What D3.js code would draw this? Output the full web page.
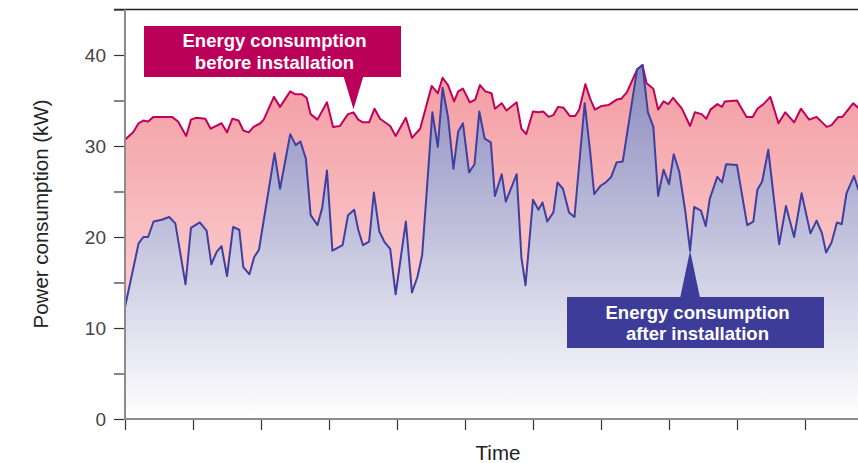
<!DOCTYPE html>
<html>
<head>
<meta charset="utf-8">
<script src="https://cdn.jsdelivr.net/npm/d3@7"></script>
<style>
  html, body { margin: 0; padding: 0; background: #fff; }
  svg { display: block; }
  text { font-family: "Liberation Sans", Arial, sans-serif; }
</style>
</head>
<body>
<svg id="chart" width="858" height="463"></svg>
<script>
// ---- data (time in tick intervals, power in kW) ----
const timeBefore = [0.00,0.12,0.20,0.27,0.34,0.42,0.69,0.78,0.90,0.97,1.05,1.18,1.26,1.42,1.50,1.58,1.67,1.74,1.82,1.89,1.99,2.04,2.19,2.28,2.43,2.50,2.60,2.67,2.73,2.83,2.97,3.06,3.16,3.28,3.36,3.43,3.50,3.59,3.67,3.75,3.90,3.98,4.13,4.22,4.34,4.51,4.60,4.67,4.75,4.84,4.90,4.97,5.07,5.15,5.22,5.30,5.39,5.44,5.54,5.61,5.76,5.83,5.90,6.00,6.08,6.15,6.23,6.30,6.37,6.45,6.54,6.62,6.68,6.77,6.84,6.91,7.01,7.11,7.23,7.30,7.38,7.53,7.61,7.67,7.77,7.84,7.92,7.99,8.06,8.19,8.31,8.38,8.48,8.55,8.61,8.71,8.78,8.82,9.00,9.14,9.23,9.30,9.39,9.49,9.61,9.71,9.84,9.94,10.06,10.17,10.32,10.39,10.49,10.55,10.71,10.78,10.85];
const powerBefore = [30.7,31.5,32.5,32.8,32.7,33.2,33.2,32.7,31.1,32.9,33.1,33.0,31.9,32.5,31.5,33.0,32.8,31.7,31.5,32.1,32.5,32.9,35.4,34.3,36.0,35.7,35.7,35.3,33.5,32.9,34.8,32.1,32.2,33.5,33.7,32.9,32.6,32.6,34.1,33.0,32.2,31.1,33.1,30.9,31.9,36.6,35.8,37.5,36.7,34.9,36.0,36.3,34.8,35.1,36.7,36.0,35.8,34.1,34.7,33.9,34.8,31.9,31.3,33.8,33.7,33.8,33.2,33.4,34.3,34.2,33.3,33.3,34.0,36.8,35.2,34.0,34.4,34.5,35.1,35.2,35.9,38.4,38.9,36.9,36.3,34.0,34.9,34.6,35.3,34.1,32.2,33.7,33.5,33.0,34.0,34.6,34.3,34.9,35.0,33.2,33.2,34.1,34.6,35.4,32.5,33.7,32.6,34.1,32.9,33.2,32.1,32.3,33.2,33.2,34.7,34.2,33.8];

const timeAfter = [0.00,0.20,0.27,0.34,0.42,0.54,0.65,0.74,0.89,0.97,1.10,1.20,1.27,1.35,1.42,1.50,1.59,1.68,1.74,1.83,1.90,1.97,2.20,2.28,2.43,2.51,2.58,2.66,2.73,2.83,2.90,2.97,3.05,3.20,3.28,3.37,3.43,3.50,3.59,3.66,3.74,3.82,3.90,3.98,4.13,4.22,4.30,4.37,4.52,4.60,4.67,4.75,4.83,4.90,4.97,5.06,5.14,5.21,5.29,5.38,5.44,5.54,5.60,5.76,5.83,5.89,6.00,6.08,6.14,6.21,6.30,6.36,6.44,6.53,6.61,6.76,6.84,6.90,6.99,7.07,7.15,7.23,7.32,7.53,7.61,7.69,7.77,7.84,7.92,8.00,8.07,8.15,8.24,8.31,8.37,8.47,8.54,8.60,8.71,8.78,8.84,9.00,9.15,9.24,9.30,9.37,9.46,9.62,9.72,9.84,9.95,10.08,10.17,10.25,10.31,10.39,10.47,10.54,10.61,10.72,10.78,10.85];
const powerAfter = [12.3,19.3,20.0,20.0,21.7,21.9,22.2,21.5,14.8,21.0,21.6,20.7,17.0,18.4,19.0,15.7,21.1,20.8,16.7,15.9,17.8,18.6,29.2,25.3,31.3,30.1,30.5,28.6,22.4,21.3,23.2,27.3,18.5,19.1,22.4,23.0,20.8,19.1,19.5,24.9,20.6,19.4,18.7,13.7,21.7,13.9,15.6,18.0,33.7,29.9,36.4,33.2,27.5,31.6,32.5,27.1,28.0,33.8,30.8,30.4,24.5,26.9,23.9,26.9,17.7,14.7,24.1,23.0,23.8,21.7,22.7,26.0,25.3,22.7,22.2,34.7,29.4,24.7,25.6,26.0,26.6,28.2,28.3,38.4,38.9,33.7,32.1,24.5,27.4,25.8,29.1,27.2,22.8,18.5,23.3,22.9,21.2,24.2,26.6,26.0,28.0,27.9,21.3,21.7,25.2,26.1,29.6,19.2,23.4,20.0,24.8,20.4,21.8,20.4,18.3,19.4,21.6,21.4,24.8,26.7,25.3,24.0];

const yMajorTicks = [0, 10, 20, 30, 40];
const yMinorTicks = [5, 15, 25, 35, 45];
const xTicks = [0,1,2,3,4,5,6,7,8,9,10,11];
const yTitle = "Power consumption (kW)";
const xTitle = "Time";
const labelBefore = ["Energy consumption", "before installation"];
const labelAfter = ["Energy consumption", "after installation"];

// ---- layout ----
const W = 858, H = 463;
const svg = d3.select("#chart");
const x = d3.scaleLinear().domain([0, 11]).range([125, 873]);
const y = d3.scaleLinear().domain([0, 45]).range([419, 9.5]);

const before = timeBefore.map((t, i) => ({t, v: powerBefore[i]}));
const after = timeAfter.map((t, i) => ({t, v: powerAfter[i]}));

const defs = svg.append("defs");
const gRed = defs.append("linearGradient").attr("id", "gRed")
  .attr("gradientUnits", "userSpaceOnUse").attr("x1", 0).attr("x2", 0)
  .attr("y1", y(40)).attr("y2", y(0));
gRed.append("stop").attr("offset", 0).attr("stop-color", "#f3999f");
gRed.append("stop").attr("offset", 1).attr("stop-color", "#fde6e7");
const gBlue = defs.append("linearGradient").attr("id", "gBlue")
  .attr("gradientUnits", "userSpaceOnUse").attr("x1", 0).attr("x2", 0)
  .attr("y1", y(40)).attr("y2", y(0));
gBlue.append("stop").attr("offset", 0).attr("stop-color", "#8686bc");
gBlue.append("stop").attr("offset", 1).attr("stop-color", "#ffffff");

defs.append("clipPath").attr("id", "plotClip").append("rect")
  .attr("x", x(0)).attr("y", y(45)).attr("width", W - x(0)).attr("height", y(0) - y(45));

const plot = svg.append("g").attr("clip-path", "url(#plotClip)");
const area = d3.area().x(d => x(d.t)).y0(y(0)).y1(d => y(d.v));
const line = d3.line().x(d => x(d.t)).y(d => y(d.v));

plot.append("path").datum(before).attr("d", area).attr("fill", "url(#gRed)");
plot.append("path").datum(after).attr("d", area).attr("fill", "url(#gBlue)");
plot.append("path").datum(before).attr("d", line).attr("fill", "none")
  .attr("stroke", "#c0005c").attr("stroke-width", 2).attr("stroke-linejoin", "round");
plot.append("path").datum(after).attr("d", line).attr("fill", "none")
  .attr("stroke", "#3f3fa0").attr("stroke-width", 2).attr("stroke-linejoin", "round");

// ---- axes ----
// top frame line
svg.append("line").attr("x1", 114).attr("x2", W).attr("y1", y(45)).attr("y2", y(45))
  .attr("stroke", "#222").attr("stroke-width", 1.5);

const yAxis = svg.append("g").attr("transform", `translate(${x(0)},0)`)
  .call(d3.axisLeft(y).tickValues(yMajorTicks.concat(yMinorTicks)).tickSize(11)
    .tickFormat(d => yMajorTicks.includes(d) ? d : ""));
yAxis.select(".domain").remove();
yAxis.selectAll(".tick line").attr("stroke", "#333").attr("stroke-width", 1.2);
yAxis.selectAll(".tick text").attr("x", -19).attr("fill", "#444")
  .style("font-size", "19px").attr("dy", "0.35em");

const xAxis = svg.append("g").attr("transform", `translate(0,${y(0)})`)
  .call(d3.axisBottom(x).tickValues(xTicks).tickSize(11).tickFormat(""));
xAxis.select(".domain").remove();
xAxis.selectAll(".tick line").attr("stroke", "#333").attr("stroke-width", 1.2);

svg.append("line").attr("x1", x(0)).attr("x2", x(0)).attr("y1", y(45)).attr("y2", y(0) + 1)
  .attr("stroke", "#8c8c8c").attr("stroke-width", 2);
svg.append("line").attr("x1", x(0) - 1).attr("x2", W).attr("y1", y(0)).attr("y2", y(0))
  .attr("stroke", "#8c8c8c").attr("stroke-width", 2);

svg.append("text").attr("transform", `translate(48,${214}) rotate(-90)`)
  .attr("text-anchor", "middle").attr("fill", "#222").style("font-size", "20.5px")
  .text(yTitle);
svg.append("text").attr("x", 498).attr("y", 460).attr("text-anchor", "middle")
  .attr("fill", "#222").style("font-size", "20.5px").text(xTitle);

// ---- annotation boxes ----
function callout(box, tip, color, lines, baseY) {
  const g = svg.append("g");
  const up = tip.y < box.y0;
  g.append("path").attr("d", `M${tip.x - 10},${box.y0 + (up ? 1 : -1)} L${tip.x},${tip.y} L${tip.x + 10},${box.y0 + (up ? 1 : -1)} Z`)
    .attr("fill", color);
  g.append("rect").attr("x", box.x).attr("y", box.y).attr("width", box.w).attr("height", box.h)
    .attr("fill", color);
  lines.forEach((s, i) => {
    g.append("text").attr("x", box.x + box.w / 2 + 2).attr("y", baseY + i * 21.5)
      .attr("text-anchor", "middle").attr("fill", "#fff")
      .style("font-size", "18.5px").style("font-weight", "bold").text(s);
  });
}
callout({x: 144, y: 26, w: 257, h: 51, y0: 77},
  {x: x(3.36), y: y(33.7) - 3}, "#bb005a", labelBefore, 47);
callout({x: 567, y: 297, w: 257, h: 51, y0: 297},
  {x: x(8.31), y: y(18.5)}, "#3d3d99", labelAfter, 318.5);
</script>
</body>
</html>
